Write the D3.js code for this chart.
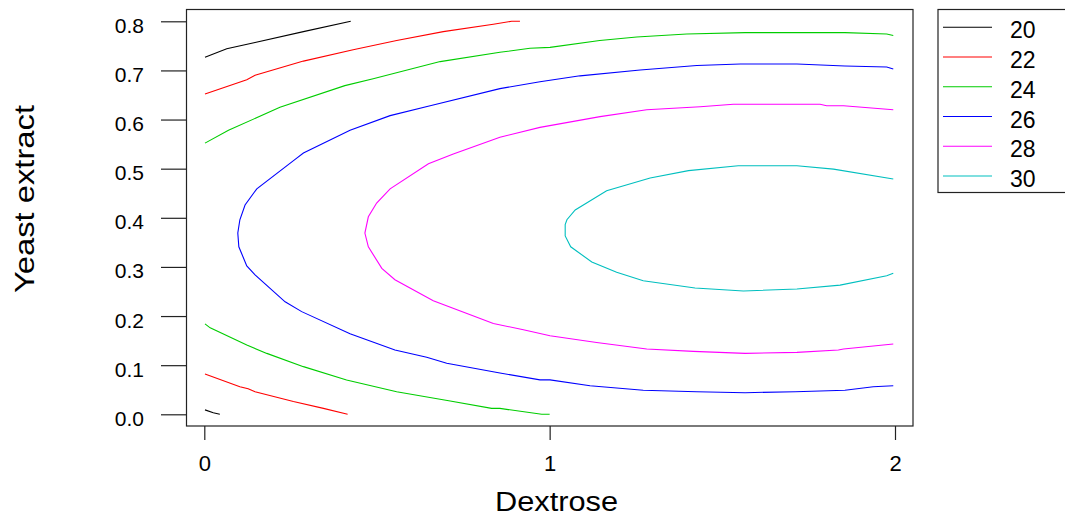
<!DOCTYPE html>
<html>
<head>
<meta charset="utf-8">
<script src="https://cdn.jsdelivr.net/npm/d3@7"></script>
<style>
  body { margin: 0; background: #fff; }
  svg { font-family: "Liberation Sans", Arial, sans-serif; }
</style>
</head>
<body>
<div id="chart-section"></div>
<script>
// contour levels + colours (R style palette)
var levels = [20, 22, 24, 26, 28, 30];
var levelColors = ["#000000", "#ff0000", "#00cd00", "#0000ff", "#ff00ff", "#00bfbf"];

// each contour is [dextrose, yeast extract] pairs
var c20top = [[0.002,0.727],[0.065,0.744],[0.147,0.757],[0.287,0.779],[0.424,0.800]];
var c20bottom = [[0.002,0.009],[0.026,0.003],[0.045,0.000]];

var c22top = [[0.002,0.652],[0.123,0.681],[0.147,0.690],[0.287,0.719],[0.431,0.742],[0.557,0.761],[0.692,0.779],[0.837,0.794],[0.890,0.800],[0.914,0.800]];
var c22bottom = [[0.002,0.082],[0.103,0.056],[0.127,0.052],[0.147,0.046],[0.258,0.026],[0.345,0.012],[0.415,0.000]];

var c24top = [[0.002,0.552],[0.070,0.578],[0.219,0.625],[0.407,0.669],[0.489,0.683],[0.683,0.718],[0.856,0.737],[0.943,0.745],[1.001,0.747],[1.145,0.761],[1.252,0.768],[1.397,0.774],[1.566,0.777],[1.711,0.777],[1.855,0.777],[1.976,0.774],[1.995,0.771]];
var c24bottom = [[0.002,0.184],[0.017,0.176],[0.123,0.141],[0.181,0.124],[0.287,0.097],[0.412,0.070],[0.557,0.046],[0.712,0.027],[0.832,0.012],[0.856,0.012],[0.977,0.000],[1.000,0.000]];

var c26 = [[1.995,0.703],[1.976,0.707],[1.855,0.709],[1.716,0.713],[1.552,0.713],[1.426,0.710],[1.262,0.701],[1.088,0.689],[0.972,0.677],[0.856,0.663],[0.654,0.628],[0.538,0.608],[0.422,0.578],[0.287,0.532],[0.263,0.519],[0.152,0.459],[0.118,0.426],[0.103,0.396],[0.097,0.369],[0.100,0.341],[0.123,0.302],[0.147,0.284],[0.234,0.229],[0.282,0.209],[0.422,0.164],[0.552,0.131],[0.644,0.116],[0.702,0.104],[0.856,0.084],[0.972,0.070],[1.001,0.070],[1.117,0.058],[1.271,0.049],[1.426,0.046],[1.566,0.044],[1.711,0.046],[1.855,0.049],[1.937,0.056],[1.995,0.058]];

var c28 = [[1.995,0.620],[1.851,0.628],[1.802,0.628],[1.783,0.631],[1.532,0.631],[1.436,0.626],[1.281,0.620],[1.146,0.606],[0.972,0.584],[0.856,0.564],[0.721,0.530],[0.649,0.510],[0.538,0.459],[0.499,0.430],[0.475,0.402],[0.465,0.369],[0.475,0.341],[0.514,0.297],[0.552,0.274],[0.663,0.231],[0.837,0.185],[0.924,0.172],[1.001,0.160],[1.136,0.146],[1.281,0.133],[1.416,0.128],[1.566,0.124],[1.716,0.126],[1.836,0.131],[1.851,0.133],[1.995,0.143]];

var c30 = [[1.995,0.479],[1.822,0.499],[1.716,0.506],[1.546,0.506],[1.402,0.496],[1.291,0.481],[1.165,0.455],[1.074,0.416],[1.050,0.396],[1.045,0.386],[1.045,0.363],[1.061,0.341],[1.122,0.310],[1.194,0.289],[1.271,0.272],[1.421,0.257],[1.561,0.251],[1.716,0.255],[1.841,0.263],[1.976,0.282],[1.995,0.287]];

var contours = [
  {level: 20, pts: c20top}, {level: 20, pts: c20bottom},
  {level: 22, pts: c22top}, {level: 22, pts: c22bottom},
  {level: 24, pts: c24top}, {level: 24, pts: c24bottom},
  {level: 26, pts: c26},
  {level: 28, pts: c28},
  {level: 30, pts: c30}
];

var xTicks = [0, 1, 2];
var yTicks = [0.0, 0.1, 0.2, 0.3, 0.4, 0.5, 0.6, 0.7, 0.8];

var width = 1065, height = 521;

var svg = d3.select("#chart-section")
  .append("svg")
  .attr("width", width)
  .attr("height", height);

var xscale = d3.scaleLinear().domain([0, 2]).range([204.3, 895]);
var yscale = d3.scaleLinear().domain([0, 0.8]).range([414.3, 21.3]);
var colorScale = d3.scaleOrdinal().domain(levels).range(levelColors);

// plot box
svg.append("rect")
  .attr("x", 186.5).attr("y", 9.5)
  .attr("width", 913 - 186.5).attr("height", 426 - 9.5)
  .attr("fill", "none").attr("stroke", "#222").attr("stroke-width", 1.2);

// x axis
var xg = svg.append("g")
  .attr("transform", "translate(0,426)")
  .call(d3.axisBottom(xscale).tickValues(xTicks).tickFormat(d3.format("d")).tickSize(14));
xg.select(".domain").remove();
xg.selectAll("line").attr("stroke", "#222").attr("stroke-width", 1.2);
xg.selectAll("text").attr("y", 45).attr("dy", 0)
  .attr("font-size", 22).attr("fill", "#000").attr("font-family", "Liberation Sans, Arial, sans-serif");

// y axis
var yg = svg.append("g")
  .attr("transform", "translate(186,0)")
  .call(d3.axisLeft(yscale).tickValues(yTicks).tickFormat(d3.format(".1f")).tickSize(25).tickPadding(17));
yg.select(".domain").remove();
yg.selectAll("line").attr("stroke", "#222").attr("stroke-width", 1.2);
yg.selectAll("text").attr("dy", 0).attr("y", 11)
  .attr("font-size", 21).attr("fill", "#000").attr("font-family", "Liberation Sans, Arial, sans-serif");

// axis titles
svg.append("text")
  .text("Dextrose")
  .attr("x", 556.5).attr("y", 511)
  .attr("text-anchor", "middle")
  .attr("font-size", 27)
  .attr("textLength", 123).attr("lengthAdjust", "spacingAndGlyphs");

svg.append("text")
  .text("Yeast extract")
  .attr("transform", "translate(33.5,199) rotate(-90)")
  .attr("text-anchor", "middle")
  .attr("font-size", 28)
  .attr("textLength", 188).attr("lengthAdjust", "spacingAndGlyphs");

// contour lines
var line = d3.line()
  .x(d => xscale(d[0]))
  .y(d => yscale(d[1]));

svg.append("g")
  .selectAll("path")
  .data(contours)
  .enter()
  .append("path")
  .attr("d", d => line(d.pts))
  .attr("fill", "none")
  .attr("stroke", d => colorScale(d.level))
  .attr("stroke-width", 1.1);

// legend
var legend = svg.append("g");
legend.append("rect")
  .attr("x", 938).attr("y", 9.5)
  .attr("width", 200).attr("height", 183)
  .attr("fill", "#fff").attr("stroke", "#222").attr("stroke-width", 1.2);

var rowY = d3.scaleLinear().domain([0, levels.length - 1]).range([27.3, 176]);
var rows = legend.selectAll(".row")
  .data(levels)
  .enter()
  .append("g")
  .attr("class", "row")
  .attr("transform", (d, i) => "translate(0," + rowY(i) + ")");
rows.append("line")
  .attr("x1", 943).attr("x2", 992)
  .attr("stroke", d => colorScale(d))
  .attr("stroke-width", 1.1);
rows.append("text")
  .text(d => d)
  .attr("x", 1010).attr("y", 11)
  .attr("font-size", 23);
</script>
</body>
</html>
